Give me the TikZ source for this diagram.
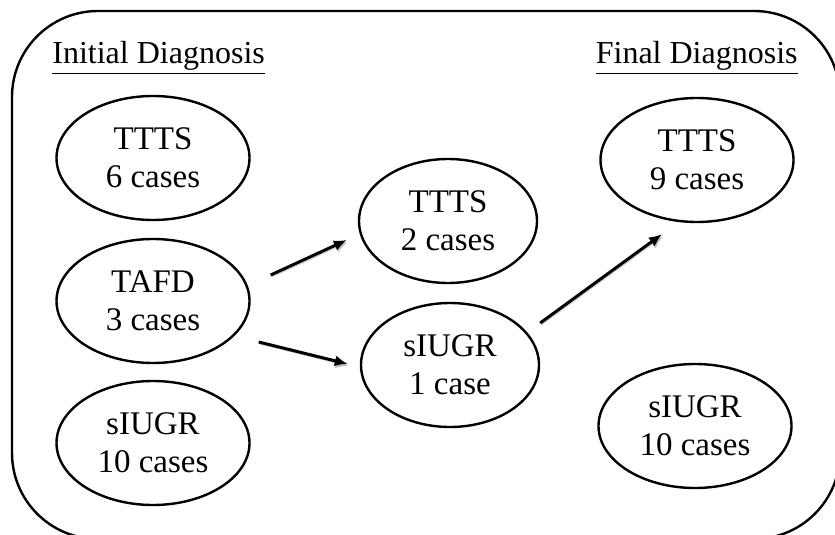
\documentclass[tikz,border=0pt]{standalone}
\usepackage{fontspec}
\setmainfont{Liberation Serif}
\usetikzlibrary{shapes.geometric,arrows.meta,positioning,calc}

\tikzset{
  dx/.style={ellipse, draw, line width=1.2pt, minimum width=96.5pt, minimum height=62pt,
    inner sep=0pt, align=center, font=\fontsize{16.5}{19}\selectfont},
  dxmid/.style={dx, minimum width=89pt},
  hdr/.style={inner sep=0pt, font=\fontsize{16}{19}\selectfont},
  arr/.style={line width=1.5pt, -{Latex[length=6.5pt,width=5.5pt]},
    preaction={draw=black!25, transform canvas={shift={(1,2)}}}}
}

\begin{document}
\begin{tikzpicture}[x=0.5pt,y=-0.5pt]
\useasboundingbox (0,0) rectangle (835,535);
\clip (0,0) rectangle (835,535);
% frame
\draw[line width=1.2pt, rounded corners=43pt] (12,11) rectangle (840,539);

% headings
\node[hdr, anchor=base west] (init) at (52,64) {\underline{Initial Diagnosis}};
\node[hdr, anchor=base east] (final) at (798,64) {\underline{Final Diagnosis}};

% initial diagnosis
\node[dx] (ittts) at (153,158) {TTTS\\6 cases};
\node[dx] (itafd) at (153,301) {TAFD\\3 cases};
\node[dx] (isiugr) at (153,443) {sIUGR\\10 cases};

% middle
\node[dxmid] (mttts) at (448,221) {TTTS\\2 cases};
\node[dxmid] (msiugr) at (450,365) {sIUGR\\1 case};

% final diagnosis
\node[dx] (fttts) at (697,160) {TTTS\\9 cases};
\node[dx] (fsiugr) at (695,426) {sIUGR\\10 cases};

% arrows
\coordinate (a1s) at ($(itafd.east)+(20,-26)$);
\coordinate (a1e) at ($(mttts.west)+(-11,19)$);
\coordinate (a2s) at ($(itafd.east)+(8,41)$);
\coordinate (a2e) at ($(msiugr.west)+(-12,-1)$);
\coordinate (a3s) at ($(msiugr.east)+(0,-42)$);
\coordinate (a3e) at ($(fttts.south)+(-35,11)$);
\draw[arr] (a1s) -- (a1e);
\draw[arr] (a2s) -- (a2e);
\draw[arr] (a3s) -- (a3e);
\end{tikzpicture}
\end{document}
